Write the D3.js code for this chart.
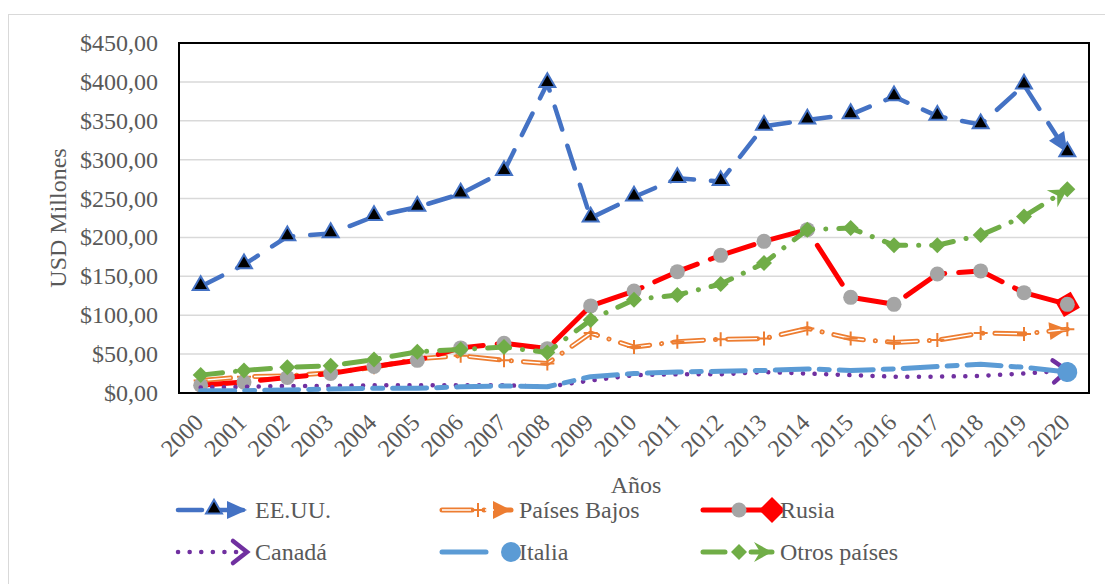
<!DOCTYPE html>
<html>
<head>
<meta charset="utf-8">
<title>Exportaciones</title>
<script src="https://cdn.jsdelivr.net/npm/d3@7"></script>
</head>
<body style="margin:0;background:#fff">
<div id="chart"></div>
<script>
// tick labels / categories
var years = ["2000","2001","2002","2003","2004","2005","2006","2007","2008","2009","2010",
             "2011","2012","2013","2014","2015","2016","2017","2018","2019","2020"];
var yTicks = [0, 50, 100, 150, 200, 250, 300, 350, 400, 450];

// series values (USD millones)
var eeuu        = [137, 165, 201, 205, 227, 239, 256, 285, 398, 225, 252, 276, 272, 343, 351, 358, 381, 356, 345, 396, 309];
var paisesBajos = [16, 21, 22, 26, 33, 44, 48, 42, 38, 77, 59, 66, 69, 70, 83, 70, 65, 68, 77, 76, 82];
var rusia       = [10, 14, 20, 25, 34, 42, 58, 64, 57, 112, 131, 156, 177, 195, 210, 123, 114, 153, 157, 129, 114];
var canada      = [7, 8, 9, 9, 10, 10, 10, 10, 8, 16, 23, 24, 24, 27, 25, 23, 21, 21, 22, 25, 29];
var italia      = [3, 3, 4, 5, 6, 6, 8, 9, 8, 21, 25, 27, 28, 29, 31, 29, 31, 34, 37, 33, 27];
var otros       = [23, 29, 33, 35, 43, 53, 56, 59, 52, 94, 120, 126, 140, 167, 210, 212, 190, 190, 203, 227, 262];

var seriesNames = ["EE.UU.", "Países Bajos", "Rusia", "Canadá", "Italia", "Otros países"];

var width = 1105, height = 584;
var plot = {left: 179, right: 1089, top: 43, bottom: 393};
var TXT = "#595959";

var svg = d3.select("#chart").append("svg")
    .attr("width", width)
    .attr("height", height)
    .attr("font-family", "Liberation Serif")
    .attr("font-size", 24)
    .attr("fill", TXT);

// chart frame
svg.append("rect")
    .attr("x", 8.5).attr("y", 14.5)
    .attr("width", 1200).attr("height", 700)
    .attr("fill", "none").attr("stroke", "#D9D9D9");

var x = d3.scalePoint().domain(years).range([plot.left, plot.right]).padding(0.5);
var y = d3.scaleLinear().domain([0, 450]).range([plot.bottom, plot.top]);

// --- line-end markers (Excel style arrows) ---
var defs = svg.append("defs");
function addMarker(id, build) {
  var m = defs.append("marker")
      .attr("id", id)
      .attr("markerUnits", "userSpaceOnUse")
      .attr("viewBox", "-30 -20 60 40")
      .attr("markerWidth", 60).attr("markerHeight", 40)
      .attr("refX", 0).attr("refY", 0)
      .attr("orient", "auto")
      .style("overflow", "visible");
  build(m);
}
addMarker("arrBlue", function(m) {
  m.append("path").attr("d", "M0,0 L-20,-9 L-20,9 Z").attr("fill", "#4472C4");
});
addMarker("arrOrange", function(m) {
  m.append("path").attr("d", "M0,0 L-18,-9 L-18,9 Z").attr("fill", "#ED7D31");
});
addMarker("diamondRed", function(m) {
  m.append("path").attr("d", "M-13,0 L0,-13 L13,0 L0,13 Z").attr("fill", "#FF0000");
});
addMarker("openPurple", function(m) {
  m.append("path").attr("d", "M-14,-11 L0,0 L-14,11").attr("fill", "none")
      .attr("stroke", "#7030A0").attr("stroke-width", 4.5).attr("stroke-linecap", "round");
});
addMarker("ovalBlue", function(m) {
  m.append("circle").attr("r", 10).attr("fill", "#5B9BD5");
});
addMarker("stealthGreen", function(m) {
  m.append("path").attr("d", "M0,0 L-18,-10 L-12,0 L-18,10 Z").attr("fill", "#70AD47");
});

// --- point markers ---
function drawMarker(g, type, cx, cy) {
  if (type === "triangle") {
    g.append("path").attr("d", d3.symbol(d3.symbolTriangle, 110)())
        .attr("transform", "translate(" + cx + "," + (cy - 1) + ")")
        .attr("fill", "#000").attr("stroke", "#4472C4").attr("stroke-width", 2);
  } else if (type === "plus") {
    g.append("path").attr("d", "M-7,0 H7 M0,-7 V7")
        .attr("transform", "translate(" + cx + "," + cy + ")")
        .attr("stroke", "#ED7D31").attr("stroke-width", 2).attr("fill", "none");
  } else if (type === "circle") {
    g.append("circle").attr("cx", cx).attr("cy", cy).attr("r", 7.5).attr("fill", "#A5A5A5");
  } else if (type === "diamond") {
    g.append("path").attr("d", "M-8,0 L0,-8 L8,0 L0,8 Z")
        .attr("transform", "translate(" + cx + "," + cy + ")")
        .attr("fill", "#70AD47");
  }
}

var series = [
  {name: seriesNames[0], values: eeuu, color: "#4472C4", width: 4.5, dash: "24,17", marker: "triangle", end: "arrBlue"},
  {name: seriesNames[1], values: paisesBajos, color: "#ED7D31", width: 5, dash: "30,12,0.1,12", marker: "plus", end: "arrOrange", double: true},
  {name: seriesNames[2], values: rusia, color: "#FF0000", width: 5, dash: "46,14", marker: "circle", end: "diamondRed"},
  {name: seriesNames[3], values: canada, color: "#7030A0", width: 4.5, dash: "0.1,11.5", marker: null, end: "openPurple"},
  {name: seriesNames[4], values: italia, color: "#5B9BD5", width: 5, dash: "34,10,10,10", marker: null, end: "ovalBlue"},
  {name: seriesNames[5], values: otros, color: "#70AD47", width: 5, dash: "22,13,0.1,13", marker: "diamond", end: "stealthGreen"}
];

// gridlines
svg.append("g").selectAll("line")
    .data(yTicks.filter(function(d) { return d > 0 && d < 450; }))
  .enter().append("line")
    .attr("x1", plot.left).attr("x2", plot.right)
    .attr("y1", function(d) { return y(d); }).attr("y2", function(d) { return y(d); })
    .attr("stroke", "#D9D9D9").attr("stroke-width", 1.5);

// y tick labels
svg.append("g").selectAll("text")
    .data(yTicks)
  .enter().append("text")
    .attr("x", 158).attr("y", function(d) { return y(d) + 8; })
    .attr("text-anchor", "end")
    .text(function(d) { return "$" + d + ",00"; });

// x tick labels
svg.append("g").selectAll("text")
    .data(years)
  .enter().append("text")
    .attr("transform", function(d) { return "translate(" + (x(d) + 4) + ",424) rotate(-45)"; })
    .attr("text-anchor", "end")
    .text(function(d) { return d; });

// axis titles
svg.append("text")
    .attr("transform", "translate(66," + ((plot.top + plot.bottom) / 2) + ") rotate(-90)")
    .attr("text-anchor", "middle")
    .text("USD Millones");
svg.append("text")
    .attr("x", 636).attr("y", 493)
    .attr("text-anchor", "middle")
    .text("Años");

// series lines
var line = d3.line()
    .x(function(d, i) { return x(years[i]); })
    .y(function(d) { return y(d); });

series.forEach(function(s) {
  var g = svg.append("g");
  g.append("path")
      .attr("d", line(s.values))
      .attr("fill", "none")
      .attr("stroke", s.color)
      .attr("stroke-width", s.width)
      .attr("stroke-dasharray", s.dash)
      .attr("stroke-linecap", "round")
      .attr("stroke-linejoin", "round")
      .attr("marker-end", "url(#" + s.end + ")");
  if (s.double) {
    g.append("path")
        .attr("d", line(s.values))
        .attr("fill", "none")
        .attr("stroke", "#fff")
        .attr("stroke-width", 1.4)
        .attr("stroke-dasharray", s.dash)
        .attr("stroke-linecap", "round");
  }
  if (s.marker) {
    s.values.forEach(function(v, i) { drawMarker(g, s.marker, x(years[i]), y(v)); });
  }
});

// plot border
svg.append("rect")
    .attr("x", plot.left).attr("y", plot.top)
    .attr("width", plot.right - plot.left).attr("height", plot.bottom - plot.top)
    .attr("fill", "none").attr("stroke", "#000").attr("stroke-width", 2);

// legend
var legCols = [178, 442, 703], legRows = [510, 552];
series.forEach(function(s, i) {
  var lx = legCols[i % 3], ly = legRows[Math.floor(i / 3)];
  var g = svg.append("g");
  g.append("path")
      .attr("d", "M" + lx + "," + ly + " L" + (lx + 69) + "," + ly)
      .attr("fill", "none")
      .attr("stroke", s.color)
      .attr("stroke-width", s.width)
      .attr("stroke-dasharray", i === 2 ? null : (i === 4 ? "44,100" : s.dash))
      .attr("stroke-linecap", "round")
      .attr("marker-end", "url(#" + s.end + ")");
  if (s.double) {
    g.append("path")
        .attr("d", "M" + lx + "," + ly + " L" + (lx + 52) + "," + ly)
        .attr("stroke", "#fff").attr("stroke-width", 1.4);
  }
  if (s.marker) drawMarker(g, s.marker, lx + 36, ly);
  g.append("text")
      .attr("x", lx + 77).attr("y", ly + 8)
      .text(s.name);
});
</script>
</body>
</html>
